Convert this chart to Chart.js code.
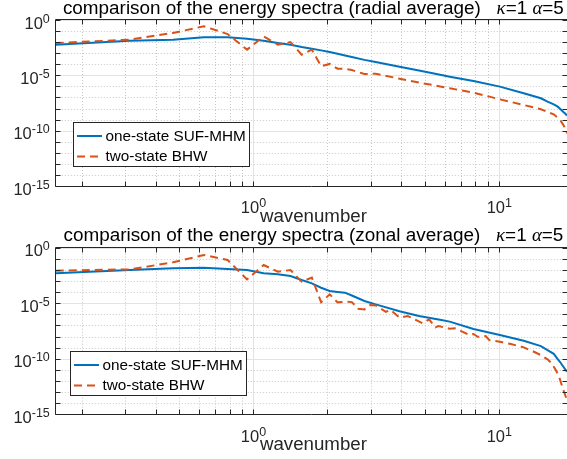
<!DOCTYPE html>
<html><head><meta charset="utf-8">
<script src="https://cdn.jsdelivr.net/npm/chart.js@4.4.0/dist/chart.umd.min.js"></script>
<style>
html,body{margin:0;padding:0;background:#fff;}
#wrap{position:relative;width:567px;height:459px;overflow:hidden;background:#fff;}
canvas{position:absolute;left:0;}
</style></head><body>
<div id="wrap">
<canvas id="c1" width="567" height="228" style="top:0"></canvas>
<canvas id="c2" width="567" height="231" style="top:228px"></canvas>
</div>
<script>
// ---------------- data ----------------
const seriesNames = ['one-state SUF-MHM', 'two-state BHW'];
const titles = ['comparison of the energy spectra (radial average)', 'comparison of the energy spectra (zonal average)'];
const titleParams = ['κ', '=1 ', 'α', '=5'];
const xAxisLabel = 'wavenumber';

const wavenumber = [0.157,0.314,0.471,0.628,0.785,0.942,1.100,1.257,1.414,1.571,1.728,1.885,2.042,2.199,2.356,2.513,2.827,3.142,3.927,4.712,5.812,6.283,7.854,10.053,12.566,14.765,15.708,16.650,17.279,17.750,18.221,18.535,18.850];
const radialOneState = [5.9e-3,1.35e-2,1.66e-2,2.7e-2,2.7e-2,2.0e-2,1.35e-2,8.3e-3,5.9e-3,3.6e-3,2.5e-3,1.8e-3,1.26e-3,9.1e-4,6.3e-4,4.5e-4,2.5e-4,1.6e-4,6.0e-5,2.75e-5,1.07e-5,7.6e-6,3.1e-6,9.5e-7,2.4e-7,8.5e-8,4.2e-8,2.4e-8,1.48e-8,8.5e-9,4.9e-9,3.5e-9,2.3e-9];
const radialTwoState = [8.3e-3,1.66e-2,6.8e-2,0.27,5.4e-2,2.1e-3,3.3e-2,5.9e-3,1.02e-2,7.4e-4,2.1e-3,6.6e-5,1.07e-4,4.0e-5,3.8e-5,3.0e-5,1.32e-5,1.41e-5,5.0e-6,2.24e-6,9.5e-7,6.8e-7,2.75e-7,6.8e-8,2.1e-8,8.5e-9,4.9e-9,3.0e-9,1.51e-9,8.1e-10,3.2e-10,1.62e-10,5.8e-11];
const zonalOneState = [4.9e-3,9.8e-3,1.38e-2,1.58e-2,1.2e-2,9.8e-3,4.9e-3,4.0e-3,2.8e-3,1.23e-3,6.2e-4,2.5e-4,1.26e-4,1.05e-4,8.9e-5,5.0e-5,1.58e-5,7.9e-6,1.9e-6,7.1e-7,3.1e-7,2.2e-7,4.8e-8,1.38e-8,4.2e-9,1.38e-9,6.0e-10,2.8e-10,9.3e-11,4.4e-11,1.9e-11,1.1e-11,6.8e-12];
const zonalWavenumberTwo = [0.157,0.314,0.471,0.628,0.785,0.942,1.100,1.257,1.414,1.571,1.728,1.885,2.042,2.199,2.356,2.513,2.670,2.827,2.985,3.142,3.456,3.613,3.927,4.241,4.398,4.869,5.184,5.498,5.655,6.283,6.597,7.069,7.540,7.854,8.168,8.796,9.111,10.053,11.153,12.566,13.823,14.765,15.708,16.336,17.122,17.593,18.221,18.850];
const zonalTwoState = [8.5e-3,1.12e-2,4.8e-2,0.22,7.8e-2,1.41e-3,2.75e-2,6.9e-3,9.8e-3,8.7e-4,2.0e-3,1.2e-5,6.3e-5,1.2e-5,1.38e-5,1.26e-5,3.2e-6,2.8e-6,6.9e-6,6.3e-6,1.7e-6,2.5e-6,5.0e-7,7.1e-7,5.0e-7,1.55e-7,3.5e-7,6.8e-8,8.9e-8,5.0e-8,5.5e-8,2.8e-8,1.38e-8,1.7e-8,9.5e-9,1.12e-8,4.8e-9,3.4e-9,2.1e-9,1.07e-9,4.3e-10,2.1e-10,8.9e-11,3.9e-11,6.8e-12,1.7e-12,1.5e-13,1.9e-14];

const xRange = [0.15708, 18.85];
const yRange = [1e-15, 1];
const xMajorTicks = [1, 10];
const xMajorLabels = ['0', '1'];
const xMinorTicks = [0.2,0.3,0.4,0.5,0.6,0.7,0.8,0.9,2,3,4,5,6,7,8,9];
const yMajorTicks = [1e-15, 1e-10, 1e-5, 1];
const yMajorLabels = ['-15', '-10', '-5', '0'];
const yMinorTicks = [1e-14,1e-13,1e-12,1e-11,1e-9,1e-8,1e-7,1e-6,1e-4,1e-3,1e-2,1e-1];

// ---------------- styling ----------------
const SANS = '"Liberation Sans", Arial, Helvetica, sans-serif';
const SERIF = '"Liberation Serif", "DejaVu Serif", serif';
const AXC = '#262626';
const BLUE = '#0072BD';
const RED = '#D95319';

function pts(xs, ys) { return xs.map((x, i) => ({ x: x, y: ys[i] })); }

function drawPow(ctx, exp, x, baseY, align) {
  ctx.font = '16.5px ' + SANS;
  const wb = ctx.measureText('10').width;
  ctx.font = '12.5px ' + SANS;
  const we = ctx.measureText(exp).width;
  const left = align === 'right' ? x - wb - we : x - (wb + we) / 2;
  ctx.textAlign = 'left';
  ctx.textBaseline = 'alphabetic';
  ctx.font = '16.5px ' + SANS;
  ctx.fillText('10', left, baseY);
  ctx.font = '12.5px ' + SANS;
  ctx.fillText(exp, left + wb, baseY - 6);
}

const matlabPlugin = {
  id: 'matlab',
  beforeDatasetsDraw(chart, args, o) {
    const ctx = chart.ctx, a = chart.chartArea, xs = chart.scales.x, ys = chart.scales.y;
    ctx.save();
    ctx.lineWidth = 1;
    const vline = (v) => { const p = Math.round(xs.getPixelForValue(v)) + 0.5; ctx.beginPath(); ctx.moveTo(p, a.top); ctx.lineTo(p, a.bottom); ctx.stroke(); };
    const hline = (v) => { const p = Math.round(ys.getPixelForValue(v)) + 0.5; ctx.beginPath(); ctx.moveTo(a.left, p); ctx.lineTo(a.right, p); ctx.stroke(); };
    ctx.strokeStyle = '#c8c8c8';
    ctx.setLineDash([1, 2]);
    xMinorTicks.forEach(vline);
    yMinorTicks.forEach(hline);
    ctx.setLineDash([]);
    ctx.strokeStyle = '#e3e3e3';
    xMajorTicks.forEach(vline);
    yMajorTicks.forEach(hline);
    ctx.restore();
  },
  afterDatasetsDraw(chart, args, o) {
    const ctx = chart.ctx, a = chart.chartArea, xs = chart.scales.x, ys = chart.scales.y;
    ctx.save();
    ctx.strokeStyle = AXC;
    ctx.fillStyle = AXC;
    ctx.lineWidth = 1;
    const L = Math.round(a.left) - 0.5, R = Math.round(a.right) + 0.5;
    const T = Math.round(a.top) - 0.5, B = Math.round(a.bottom) + 0.5;
    ctx.beginPath();
    ctx.moveTo(L, B); ctx.lineTo(L, T); ctx.lineTo(R, T); ctx.lineTo(R, B); ctx.closePath();
    ctx.stroke();
    const TL = 5;
    [...xMajorTicks, ...xMinorTicks].forEach(v => {
      const p = Math.round(xs.getPixelForValue(v)) + 0.5;
      ctx.beginPath(); ctx.moveTo(p, B); ctx.lineTo(p, B - TL); ctx.moveTo(p, T); ctx.lineTo(p, T + TL); ctx.stroke();
    });
    [...yMajorTicks, ...yMinorTicks].forEach(v => {
      const p = Math.round(ys.getPixelForValue(v)) + 0.5;
      ctx.beginPath(); ctx.moveTo(L, p); ctx.lineTo(L + TL, p); ctx.moveTo(R, p); ctx.lineTo(R - TL, p); ctx.stroke();
    });
    // tick labels
    yMajorTicks.forEach((v, i) => drawPow(ctx, yMajorLabels[i], a.left - 6, ys.getPixelForValue(v) + 8.5, 'right'));
    xMajorTicks.forEach((v, i) => drawPow(ctx, xMajorLabels[i], xs.getPixelForValue(v), a.bottom + 27.3, 'center'));
    // x label
    const cx = (a.left + a.right) / 2 + 2;
    ctx.font = '18.7px ' + SANS;
    ctx.textAlign = 'center';
    ctx.textBaseline = 'alphabetic';
    ctx.fillStyle = '#262626';
    ctx.fillText(xAxisLabel, cx, a.bottom + 35.5);
    // title (pieces)
    const pieces = [
      { t: o.title + '   ', f: '18.9px ' + SANS },
      { t: titleParams[0], f: 'italic 18.9px ' + SERIF },
      { t: titleParams[1], f: '18.9px ' + SANS },
      { t: titleParams[2], f: 'italic 18.9px ' + SERIF },
      { t: titleParams[3], f: '18.9px ' + SANS }
    ];
    let tw = 0;
    pieces.forEach(p => { ctx.font = p.f; p.w = ctx.measureText(p.t).width; tw += p.w; });
    let tx = cx - tw / 2;
    ctx.textAlign = 'left';
    ctx.fillStyle = '#000';
    pieces.forEach(p => { ctx.font = p.f; ctx.fillText(p.t, tx, a.top - 6.5); tx += p.w; });
    // legend
    const lx = Math.round(a.left + o.legendLeft) + 0.5, ly = Math.round(a.top + o.legendTop) + 0.5;
    const lw = 176, lh = 44;
    ctx.fillStyle = '#fff';
    ctx.fillRect(lx, ly, lw, lh);
    ctx.strokeStyle = AXC;
    ctx.lineWidth = 1;
    ctx.strokeRect(lx, ly, lw, lh);
    ctx.font = '15.3px ' + SANS;
    ctx.textBaseline = 'middle';
    chart.data.datasets.forEach((ds, i) => {
      const ry = ly + 13.5 + i * 20.5;
      ctx.strokeStyle = ds.borderColor;
      ctx.lineWidth = ds.borderWidth;
      ctx.setLineDash(ds.borderDash || []);
      ctx.beginPath(); ctx.moveTo(lx + 3.5, ry); ctx.lineTo(lx + 28.5, ry); ctx.stroke();
      ctx.setLineDash([]);
      ctx.fillStyle = '#000';
      ctx.fillText(ds.label, lx + 32, ry + 0.5);
    });
    ctx.restore();
  }
};

function makeChart(id, xs1, ys1, xs2, ys2, title, padTop, axisBottom, legendLeft, legendTop) {
  const cv = document.getElementById(id);
  const H = cv.height;
  return new Chart(cv, {
    type: 'line',
    data: {
      datasets: [
        { label: seriesNames[0], data: pts(xs1, ys1), borderColor: BLUE, borderWidth: 2, pointRadius: 0, fill: false, tension: 0, order: 1 },
        { label: seriesNames[1], data: pts(xs2, ys2), borderColor: RED, borderWidth: 2, borderDash: [8, 5], pointRadius: 0, fill: false, tension: 0, order: 0 }
      ]
    },
    options: {
      responsive: false,
      animation: false,
      events: [],
      layout: { padding: { top: padTop, left: 0, right: 0, bottom: 0 } },
      scales: {
        x: {
          type: 'logarithmic', min: xRange[0], max: xRange[1],
          grid: { display: false }, border: { display: false }, ticks: { display: false },
          afterFit(s) { s.height = H - axisBottom; }
        },
        y: {
          type: 'logarithmic', min: yRange[0], max: yRange[1],
          grid: { display: false }, border: { display: false }, ticks: { display: false },
          afterFit(s) { s.width = 55.8; }
        }
      },
      plugins: {
        legend: { display: false },
        title: { display: false },
        tooltip: { enabled: false },
        matlab: { title: title, legendLeft: legendLeft, legendTop: legendTop }
      }
    },
    plugins: [matlabPlugin]
  });
}

makeChart('c1', wavenumber, radialOneState, wavenumber, radialTwoState, titles[0], 20, 186, 17, 102);
makeChart('c2', wavenumber, zonalOneState, zonalWavenumberTwo, zonalTwoState, titles[1], 19.7, 186.3, 14, 103);
</script>
</body></html>
